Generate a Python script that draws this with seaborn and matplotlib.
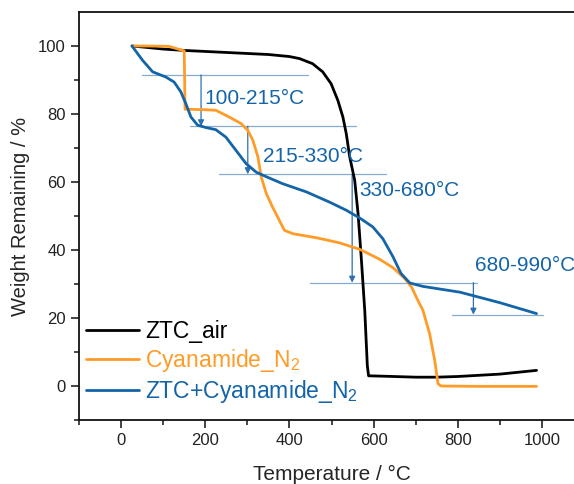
import numpy as np
import pandas as pd
import matplotlib
matplotlib.use("Agg")
import matplotlib.pyplot as plt
import seaborn as sns

sns.set_theme(style="ticks")
plt.rcParams["font.family"] = ["Liberation Sans", "DejaVu Sans"]
plt.rcParams["mathtext.fontset"] = "custom"
plt.rcParams["mathtext.rm"] = "Liberation Sans"
plt.rcParams["mathtext.default"] = "regular"

# ZTC in air
air_t = [26, 60, 100, 150, 200, 250, 300, 350, 400, 424, 455, 479, 499, 515, 527, 535, 543,
         555, 563, 571, 579, 585, 588, 620, 700, 750, 800, 900, 987]
air_w = [100, 99.6, 99.1, 98.7, 98.4, 98.1, 97.8, 97.5, 96.9, 96.3, 94.8, 92.4, 88.9, 84.0, 79.1, 74.2, 67.5,
         60.5, 50.7, 37.0, 22.0, 6.0, 3.0, 2.9, 2.6, 2.6, 2.8, 3.5, 4.6]

# Cyanamide under N2
cy_t = [26, 60, 114, 146, 150, 152, 190, 225, 257, 285, 301, 313, 325, 333, 345, 360, 372, 388, 408,
        464, 519, 567, 614, 646, 674, 690, 705, 717, 733, 745, 753, 760, 850, 987]
cy_w = [100, 100, 99.9, 98.7, 98.6, 81.4, 81.3, 81.1, 79.1, 77.2, 75.2, 72.3, 67.4, 61.5, 56.6, 52.6, 49.7, 45.8, 44.8,
        43.6, 42.1, 40.2, 37.3, 34.8, 31.6, 29.1, 25.2, 22.3, 15.4, 7.6, 0.7, 0.0, -0.1, -0.1]

# ZTC + cyanamide under N2
mix_t = [26, 51, 75, 106, 126, 142, 154, 166, 182, 202, 225, 249, 273, 297, 321, 346, 384, 440,
         495, 535, 567, 598, 622, 646, 665, 686, 717, 805, 900, 987]
mix_w = [100, 95.8, 92.4, 90.9, 89.4, 86.5, 83.0, 79.1, 76.7, 76.0, 75.4, 73.2, 69.3, 65.4, 62.9, 61.5, 59.5, 57.1,
         54.1, 51.7, 49.4, 46.8, 43.3, 38.0, 33.1, 30.3, 29.3, 27.6, 24.5, 21.3]

labels = ["ZTC_air", "Cyanamide_N$_2$", "ZTC+Cyanamide_N$_2$"]
colors = ["#000000", "#FF9C28", "#1464A8"]

# step annotation levels and their horizontal guide spans
lvl_y = [91.5, 76.4, 62.3, 30.4, 21.0]
lvl_x0 = [50, 164, 233, 448, 785]
lvl_x1 = [443, 559, 630, 845, 1003]
arrow_x = [190, 301, 549, 837]
step_text = ["100-215°C", "215-330°C", "330-680°C", "680-990°C"]
text_x = [197, 338, 566, 841]
text_y = [84.5, 67.5, 57.5, 35.5]

df = pd.concat([
    pd.DataFrame({"T": air_t, "W": air_w, "sample": labels[0]}),
    pd.DataFrame({"T": cy_t, "W": cy_w, "sample": labels[1]}),
    pd.DataFrame({"T": mix_t, "W": mix_w, "sample": labels[2]}),
])

fig = plt.figure(figsize=(5.74, 4.84), dpi=100)
ax = fig.add_axes([0.1376, 0.1322, 0.88, 0.843])

sns.lineplot(data=df, x="T", y="W", hue="sample", palette=colors, hue_order=labels,
             estimator=None, sort=False, lw=2, ax=ax)

for y, a, b in zip(lvl_y, lvl_x0, lvl_x1):
    ax.plot([a, b], [y, y], color="#86ABD0", lw=0.9, zorder=1)
for i, x in enumerate(arrow_x):
    ax.annotate("", xy=(x, lvl_y[i + 1]), xytext=(x, lvl_y[i]),
                arrowprops=dict(arrowstyle="-|>", color="#2F70B0", lw=0.9,
                                mutation_scale=9, shrinkA=0, shrinkB=0), zorder=1)
for x, y, s in zip(text_x, text_y, step_text):
    ax.text(x, y, s, color=colors[2], fontsize=15, va="center", ha="left")

ax.set_xlim(-100, 1100)
ax.set_ylim(-10, 110)
ax.set_xticks([0, 200, 400, 600, 800, 1000])
ax.set_xticks(np.arange(-100, 1100, 100), minor=True)
ax.set_yticks([0, 20, 40, 60, 80, 100])
ax.set_yticks(np.arange(-10, 110, 10), minor=True)
ax.tick_params(which="major", direction="out", length=6, width=1.2, labelsize=12, colors="#222222")
ax.tick_params(which="minor", direction="out", length=3.5, width=1.2)
ax.spines["right"].set_visible(False)
for sp in ax.spines.values():
    sp.set_linewidth(1.3)
    sp.set_color("#111111")

ax.set_xlabel("Temperature / °C", fontsize=15, labelpad=12)
ax.set_ylabel("Weight Remaining / %", fontsize=14.5, labelpad=6)

leg = ax.legend(loc="lower left", bbox_to_anchor=(0.014, 0.036), frameon=False, fontsize=16.5,
                handlelength=2.3, handletextpad=0.28, labelspacing=0.18, borderpad=0,
                borderaxespad=0, labelcolor="linecolor")

fig.savefig("out.png", dpi=100)
